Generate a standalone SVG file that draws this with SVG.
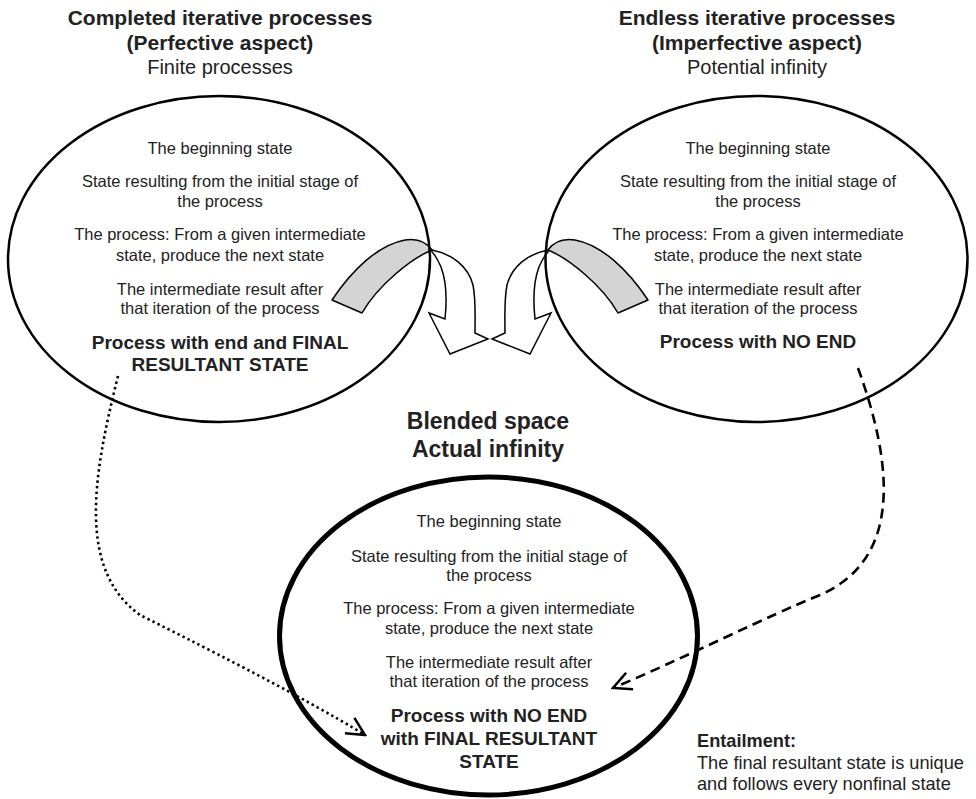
<svg xmlns="http://www.w3.org/2000/svg" width="976" height="799" viewBox="0 0 976 799">
  <defs>
    <style>
      .ell { fill: none; stroke: #000; stroke-width: 2.5; }
      .ell-main { fill: none; stroke: #000; stroke-width: 5; }
      .t { font-family: "Liberation Sans", Arial, Helvetica, sans-serif; font-size: 16.5px; fill: #222; text-anchor: middle; }
      .b { font-weight: bold; font-size: 19px; }
      .h { font-weight: bold; font-size: 21px; }
      .hr { font-size: 20px; }
      .blend { font-weight: bold; font-size: 23px; }
      .note { text-anchor: start; font-size: 18.2px; }
      .back { fill: #d4d4d4; stroke: #000; stroke-width: 1.5; stroke-linejoin: round; }
      .front { fill: #fff; stroke: #000; stroke-width: 1.5; stroke-linejoin: miter; }
      .dotted { fill: none; stroke: #000; stroke-width: 2.6; stroke-dasharray: 2.4 3.2; }
      .dashed { fill: none; stroke: #000; stroke-width: 2.6; stroke-dasharray: 10 6; }
    </style>
    <marker id="chev" viewBox="0 0 22 22" refX="20" refY="11" markerWidth="22" markerHeight="22" orient="auto" markerUnits="userSpaceOnUse">
      <path d="M2,2 L20,11 L2,20" fill="none" stroke="#000" stroke-width="2.5" stroke-dasharray="none"/>
    </marker>
    <!-- twisted ribbon arrow leaving the left space; mirrored for the right space -->
    <g id="ribbon">
      <path class="back" d="M332,300 C352,270 378,245 405,240 C418,238 427,243 432,250 C412,258 378,285 362,313 Z"/>
      <path class="front" d="M432,250 C452,254 468,266 473,285 C476,300 475,318 475,333 L488,339 L450,354 L429,313 L445,319 C447,300 446,280 441,267 C438,260 435,255 432,252 Z"/>
    </g>
  </defs>

  <rect width="976" height="799" fill="#fff"/>

  <!-- headings -->
  <g id="heading-left">
    <text class="t h" x="220" y="25">Completed iterative processes</text>
    <text class="t h" x="220" y="50">(Perfective aspect)</text>
    <text class="t hr" x="220" y="74">Finite processes</text>
  </g>
  <g id="heading-right">
    <text class="t h" x="757" y="25">Endless iterative processes</text>
    <text class="t h" x="757" y="50">(Imperfective aspect)</text>
    <text class="t hr" x="757" y="74">Potential infinity</text>
  </g>
  <g id="heading-blend">
    <text class="t blend" x="488" y="429">Blended space</text>
    <text class="t blend" x="488" y="457">Actual infinity</text>
  </g>

  <!-- projection arrows into the blend -->
  <g id="projections">
    <use href="#ribbon"/>
    <use href="#ribbon" transform="translate(980,0) scale(-1,1)"/>
  </g>

  <!-- input space: completed processes -->
  <g id="space-completed">
    <ellipse class="ell" cx="219" cy="259" rx="211" ry="163"/>
    <text class="t" x="220" y="154">The beginning state</text>
    <text class="t" x="220" y="187">State resulting from the initial stage of</text>
    <text class="t" x="220" y="207">the process</text>
    <text class="t" x="220" y="240">The process: From a given intermediate</text>
    <text class="t" x="220" y="261">state, produce the next state</text>
    <text class="t" x="220" y="295">The intermediate result after</text>
    <text class="t" x="220" y="314">that iteration of the process</text>
    <text class="t b" x="220" y="349">Process with end and FINAL</text>
    <text class="t b" x="220" y="371">RESULTANT STATE</text>
  </g>

  <!-- input space: endless processes -->
  <g id="space-endless">
    <ellipse class="ell" cx="756.5" cy="259" rx="211" ry="163"/>
    <text class="t" x="758" y="154">The beginning state</text>
    <text class="t" x="758" y="187">State resulting from the initial stage of</text>
    <text class="t" x="758" y="207">the process</text>
    <text class="t" x="758" y="240">The process: From a given intermediate</text>
    <text class="t" x="758" y="261">state, produce the next state</text>
    <text class="t" x="758" y="295">The intermediate result after</text>
    <text class="t" x="758" y="314">that iteration of the process</text>
    <text class="t b" x="758" y="348">Process with NO END</text>
  </g>

  <!-- blended space -->
  <g id="space-blended">
    <ellipse class="ell-main" cx="488.5" cy="636" rx="209" ry="159"/>
    <text class="t" x="489" y="527">The beginning state</text>
    <text class="t" x="489" y="562">State resulting from the initial stage of</text>
    <text class="t" x="489" y="581">the process</text>
    <text class="t" x="489" y="614">The process: From a given intermediate</text>
    <text class="t" x="489" y="634">state, produce the next state</text>
    <text class="t" x="489" y="668">The intermediate result after</text>
    <text class="t" x="489" y="687">that iteration of the process</text>
    <text class="t b" x="489" y="722">Process with NO END</text>
    <text class="t b" x="489" y="745">with FINAL RESULTANT</text>
    <text class="t b" x="489" y="768">STATE</text>
  </g>

  <!-- entailment note -->
  <g id="entailment">
    <text class="t note" x="697" y="747" font-weight="bold">Entailment:</text>
    <text class="t note" x="697" y="769">The final resultant state is unique</text>
    <text class="t note" x="697" y="790">and follows every nonfinal state</text>
  </g>

  <!-- mappings from the input spaces -->
  <g id="connectors">
    <path class="dotted" d="M118,376 C92,480 78,570 140,615 C190,640 300,695 365,735" marker-end="url(#chev)"/>
    <path class="dashed" d="M858,368 C895,470 900,560 820,595 C770,615 680,660 613,688" marker-end="url(#chev)"/>
  </g>
</svg>
